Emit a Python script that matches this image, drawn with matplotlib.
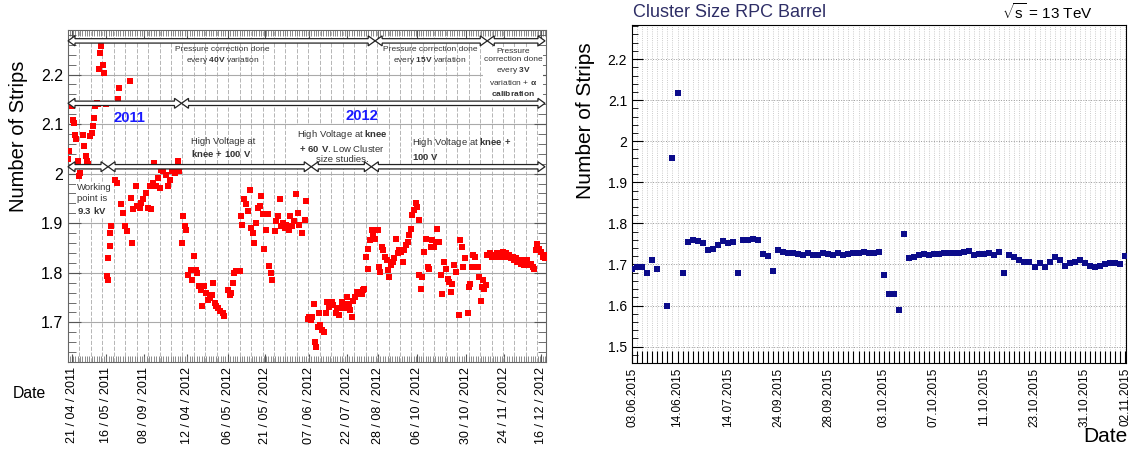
import numpy as np
import matplotlib.pyplot as plt
from matplotlib.patches import Polygon
from matplotlib.transforms import IdentityTransform
from matplotlib.ticker import MultipleLocator, FormatStrFormatter

plt.rcParams['font.family'] = ['Liberation Sans', 'DejaVu Sans']
plt.rcParams['mathtext.fontset'] = 'custom'
plt.rcParams['mathtext.rm'] = 'Liberation Sans'
plt.rcParams['mathtext.bf'] = 'Liberation Sans:bold'

# ---------------- left panel: 2011-2012 (run index 0..100) ----------------
run_2011 = [0.3, 0.1, 0.8, 1.0, 1.3, 1.5, 1.7, 2.2, 2.4, 2.5, 3.1, 3.3, 3.8, 3.9, 4.3,
            4.6, 5.0, 5.3, 5.5, 5.6, 6.0, 6.3, 6.4, 6.7, 7.0, 7.3, 7.6, 7.9, 8.1, 8.3,
            8.4, 8.8, 8.9, 9.1, 9.8, 10.2, 10.5, 10.7, 11.2, 11.6, 11.9, 12.3, 13.0,
            13.3, 13.5, 13.7, 14.2, 14.5, 15.1, 15.4, 15.8, 16.3, 16.8, 17.2, 17.5,
            17.9, 18.1, 18.5, 18.9, 19.2, 19.6, 19.9, 20.5, 21.0, 21.3, 21.9, 22.4,
            22.7, 23.1, 23.3]
cls_2011 = [2.045, 2.029, 2.136, 2.109, 2.103, 2.079, 2.069, 2.025, 1.995, 2.002, 2.079,
            2.056, 2.035, 2.025, 2.019, 2.076, 2.082, 2.096, 2.113, 2.136, 2.143, 2.140,
            2.212, 2.244, 2.258, 2.220, 2.204, 2.140, 1.793, 1.786, 1.830, 1.854, 1.880,
            1.894, 1.988, 1.981, 2.150, 2.173, 1.938, 1.921, 1.894, 1.884, 2.187, 1.951,
            1.860, 1.928, 1.975, 1.934, 1.931, 1.941, 1.948, 1.961, 1.931, 1.975, 1.928,
            1.981, 2.022, 1.975, 1.992, 1.971, 2.008, 2.005, 1.998, 1.975, 1.988, 2.005,
            2.002, 2.012, 2.025, 2.005]

run_2012 = [23.8, 24.1, 24.5, 24.8, 25.2, 25.7, 26.1, 26.4, 26.8, 27.1, 27.5, 27.8, 28.2,
            28.5, 29.0, 29.4, 29.7, 30.1, 30.4, 30.8, 31.1, 31.5, 31.9, 32.4, 32.8, 33.5,
            33.9, 34.2, 34.6, 34.9, 35.3, 36.0,
            36.3, 36.5, 37.0, 37.4, 37.7, 38.1, 38.4, 38.8, 39.1, 39.5, 39.8, 40.2, 40.5,
            40.9, 41.2, 41.6, 41.9, 42.1, 42.5, 42.8, 43.3, 43.7, 44.0, 44.4, 44.7, 45.0,
            45.4, 45.7, 46.3, 46.6, 47.0, 47.4, 47.8, 48.2, 48.5, 49.1, 49.6, 49.9,
            50.3, 50.6, 51.0, 51.2, 51.5, 51.7, 51.9, 52.4, 52.6, 52.9, 53.3, 53.6, 54.0,
            54.3, 54.7, 55.0, 55.4, 55.6, 56.1, 56.3, 56.8, 57.0, 57.5, 57.7, 58.2, 58.4,
            58.9, 59.1, 59.6, 59.8, 60.2, 60.5, 60.9, 61.2, 61.6, 61.9, 62.1,
            62.5, 62.8, 63.0, 63.3, 63.7, 64.0, 64.4, 64.9, 65.1, 65.4, 65.8, 66.1, 66.5,
            66.8, 67.0, 67.4, 67.7, 68.1, 68.4, 68.8, 69.1, 69.5, 69.8, 70.2, 70.5, 70.8,
            71.2, 71.5, 71.9, 72.2, 72.6, 72.9, 73.2, 73.5, 73.6, 74.0, 74.3, 74.7, 75.0,
            75.4, 75.7, 76.1, 76.4, 76.8, 77.1, 77.4, 77.8, 78.2, 78.5, 78.9, 79.2, 79.6,
            79.9, 80.3, 80.6, 80.9, 81.3, 81.9, 82.2, 82.6, 82.8, 83.3, 83.8, 84.0, 84.3,
            84.7, 85.0, 85.4, 85.9, 86.2, 86.6, 86.8, 87.0, 87.2, 87.6,
            87.9, 88.4, 88.8, 89.3, 89.7, 90.0, 90.4, 90.7, 91.1, 91.4, 91.8, 92.1, 92.5,
            92.8, 93.2, 93.5, 93.9, 94.2, 94.6, 94.9, 95.3, 95.6, 96.0, 96.3, 96.7, 97.0,
            97.4, 97.7, 98.1, 98.4, 98.8, 99.1, 99.5, 99.8, 100.0]
cls_2012 = [1.860, 1.914, 1.894, 1.887, 1.796, 1.806, 1.786, 1.833, 1.806, 1.800, 1.773,
            1.766, 1.732, 1.773, 1.759, 1.746, 1.749, 1.756, 1.779, 1.739, 1.732, 1.729,
            1.722, 1.719, 1.712, 1.766, 1.756, 1.759, 1.779, 1.800, 1.803, 1.803,
            1.914, 1.897, 1.948, 1.938, 1.924, 1.968, 1.891, 1.880, 1.860, 1.901, 1.931,
            1.934, 1.955, 1.918, 1.847, 1.887, 1.918, 1.813, 1.800, 1.786, 1.884, 1.904,
            1.914, 1.948, 1.894, 1.901, 1.891, 1.897, 1.887, 1.914, 1.894, 1.904, 1.958,
            1.921, 1.897, 1.880, 1.907, 1.944,
            1.707, 1.711, 1.704, 1.711, 1.738, 1.660, 1.650, 1.691, 1.718, 1.694, 1.684,
            1.680, 1.718, 1.741, 1.731, 1.741, 1.741, 1.734, 1.718, 1.728, 1.714, 1.728,
            1.741, 1.738, 1.728, 1.751, 1.738, 1.724, 1.711, 1.744, 1.751, 1.761, 1.758,
            1.761, 1.758, 1.765, 1.768,
            1.832, 1.808, 1.849, 1.866, 1.886, 1.876, 1.869, 1.886, 1.812, 1.802, 1.852,
            1.845, 1.832, 1.825, 1.805, 1.792, 1.815, 1.822, 1.829, 1.869, 1.839, 1.845,
            1.842, 1.822, 1.845, 1.856, 1.862, 1.876, 1.889, 1.916, 1.926, 1.940, 1.933,
            1.906, 1.795, 1.768, 1.792, 1.842, 1.869, 1.812, 1.808, 1.852, 1.866, 1.852,
            1.862, 1.889, 1.862, 1.795, 1.758, 1.822, 1.808, 1.788, 1.782, 1.761, 1.778,
            1.815, 1.802, 1.714, 1.866, 1.852, 1.812, 1.829, 1.718, 1.771, 1.778, 1.812,
            1.835, 1.832, 1.812, 1.792, 1.744, 1.771, 1.785, 1.768, 1.775,
            1.835, 1.839, 1.832, 1.835, 1.832, 1.839, 1.832, 1.835, 1.842, 1.832, 1.839,
            1.832, 1.835, 1.829, 1.832, 1.825, 1.829, 1.822, 1.825, 1.818, 1.825, 1.815,
            1.822, 1.825, 1.815, 1.818, 1.812, 1.808, 1.845, 1.859, 1.849, 1.842, 1.832,
            1.835, 1.829]

dates_1112 = ['21 / 04 / 2011', '16 / 05 / 2011', '08 / 09 / 2011', '12 / 04 / 2012',
              '06 / 05 / 2012', '21 / 05 / 2012', '07 / 06 / 2012', '22 / 07 / 2012',
              '28 / 08 / 2012', '06 / 10 / 2012', '30 / 10 / 2012', '24 / 11 / 2012',
              '16 / 12 / 2012']
date_runs_1112 = [0.8, 7.9, 15.9, 24.9, 33.5, 41.4, 50.6, 58.4, 64.9, 73.2, 83.5, 91.4, 99.2]

# ---------------- right panel: 2015 (one bin per run) ----------------
cls_2015 = [1.688, 1.693, 1.693, 1.680, 1.710, 1.688, np.nan, 1.598, 1.960, 2.117,
            1.680, 1.755, 1.760, 1.758, 1.752, 1.735, 1.737, 1.748, 1.758, 1.752,
            1.755, 1.680, 1.760, 1.760, 1.762, 1.760, 1.725, 1.720, 1.683, 1.735,
            1.730, 1.727, 1.727, 1.726, 1.722, 1.728, 1.724, 1.722, 1.728, 1.726,
            1.723, 1.728, 1.722, 1.725, 1.727, 1.728, 1.731, 1.728, 1.728, 1.731,
            1.675, 1.627, 1.628, 1.588, 1.773,
            1.715, 1.718, 1.722, 1.725, 1.722, 1.725, 1.726, 1.727, 1.727, 1.728,
            1.729, 1.730, 1.733, 1.722, 1.726, 1.726, 1.728, 1.724, 1.730,
            1.680,
            1.723, 1.717, 1.712, 1.707, 1.705, 1.695, 1.703, 1.695, 1.705, 1.717,
            1.710, 1.696, 1.703, 1.707, 1.711, 1.703, 1.696, 1.695, 1.696, 1.700,
            1.703, 1.703, 1.702, 1.720]
dates_2015 = ['03.06.2015', '14.06.2015', '14.07.2015', '24.09.2015', '28.09.2015',
              '03.10.2015', '07.10.2015', '11.10.2015', '23.10.2015', '31.10.2015',
              '02.11.2015']
date_bins_2015 = [0, 9, 19, 29, 39, 50, 60, 70, 80, 90, 98]

fig = plt.figure(figsize=(11.31, 4.5), dpi=100)

# ======================= left =======================
ax = fig.add_axes([0.0601, 0.1956, 0.4226, 0.7378])
ax.scatter(run_2011, cls_2011, marker='s', s=13, c='#ff0000', lw=0, zorder=3)
ax.scatter(run_2012, cls_2012, marker='s', s=13, c='#ff0000', lw=0, zorder=3)
ax.set_xlim(0, 100.2)
ax.set_ylim(1.62, 2.29)
ax.yaxis.set_major_locator(MultipleLocator(0.1))
ax.yaxis.set_minor_locator(MultipleLocator(0.02))
ax.yaxis.set_major_formatter(FormatStrFormatter('%g'))
ax.set_xticks(date_runs_1112, dates_1112, rotation=90, fontsize=9)
ax.xaxis.set_minor_locator(MultipleLocator(0.5))
ax.tick_params(axis='y', which='major', direction='in', length=9, labelsize=11.5,
               right=True, color='#555')
ax.tick_params(axis='y', which='minor', direction='in', length=6, right=True, color='#555')
ax.tick_params(axis='x', which='major', direction='in', length=6, top=True, color='#555')
ax.tick_params(axis='x', which='minor', direction='in', length=4, top=True, color='#777',
               width=0.6)
ax.grid(axis='y', which='major', color='#aaaaaa', lw=0.8)
for xv in np.arange(2.4, 100, 2.4):
    ax.axvline(xv, color='#aaaaaa', lw=0.6, ls=(0, (5, 2)), zorder=0)
for sp in ax.spines.values():
    sp.set_color('#666')
ax.set_ylabel('Number of Strips', fontsize=14.5)
ax.yaxis.set_label_coords(-0.084, 0.68)
fig.text(0.0115, 0.115, 'Date', fontsize=11.3)


# double headed hollow arrows, drawn in pixels
def period(x0, x1, y, L=7, H=5, h=2.2):
    (p0, py), (p1, _) = ax.transData.transform([(x0, y), (x1, y)])
    pts = [(p0, py), (p0 + L, py + H), (p0 + L, py + h), (p1 - L, py + h),
           (p1 - L, py + H), (p1, py), (p1 - L, py - H), (p1 - L, py - h),
           (p0 + L, py - h), (p0 + L, py - H)]
    fig.patches.append(Polygon(pts, closed=True, fc='white', ec='#222', lw=0.9,
                               transform=IdentityTransform(), figure=fig, zorder=4))


for a, b in ((0, 64.4), (64.4, 87.9), (87.9, 100)):
    period(a, b, 2.268)
for a, b in ((0, 23.8), (23.8, 100)):
    period(a, b, 2.142)
for a, b in ((0, 8.4), (8.4, 51.0), (51.0, 63.6), (63.6, 100)):
    period(a, b, 2.014)

tc = '#333333'
ax.text(32.4, 2.237, 'Pressure correction done\nevery $\\mathbf{40V}$ variation',
        ha='center', va='center', fontsize=6, color=tc, linespacing=1.3)
ax.text(75.9, 2.237, 'Pressure correction done\nevery $\\mathbf{15V}$ variation',
        ha='center', va='center', fontsize=6, color=tc, linespacing=1.3)
ax.text(93.3, 2.203, 'Pressure\ncorrection done\nevery $\\mathbf{3V}$\n'
        'variation + $\\mathbf{\\alpha}$\n$\\mathbf{calibration}$',
        ha='center', va='center', fontsize=6, color=tc, linespacing=1.3,
        bbox=dict(fc='white', ec='none', pad=0.5))
ax.text(12.8, 2.112, '2011', ha='center', va='center', fontsize=10.7,
        fontweight='bold', color='#1a1aff')
ax.text(61.7, 2.116, '2012', ha='center', va='center', fontsize=10.7,
        fontweight='bold', color='#1a1aff')
ax.text(25.7, 2.052, 'High Voltage at\n$\\mathbf{knee\\ {+}\\ 100\\ V}$',
        ha='left', va='center', fontsize=6.8, color=tc, linespacing=1.3)
ax.text(57.5, 2.056, 'High Voltage at $\\mathbf{knee}$\n$\\mathbf{{+}\\ 60\\ V}$. Low Cluster\n'
        'size studies.', ha='center', va='center', fontsize=6.8, color=tc,
        linespacing=1.2, bbox=dict(fc='white', ec='none', pad=0.3))
ax.text(72.2, 2.050, 'High Voltage at $\\mathbf{knee\\ {+}}$\n$\\mathbf{100\\ V}$',
        ha='left', va='center', fontsize=6.8, color=tc, linespacing=1.3)
ax.text(1.9, 1.948, 'Working\npoint is\n$\\mathbf{9.3\\ kV}$', ha='left', va='center',
        fontsize=6.8, color=tc, linespacing=1.3,
        bbox=dict(fc='white', ec='none', pad=0.5))

# ======================= right =======================
ax2 = fig.add_axes([0.5588, 0.1933, 0.4368, 0.7511])
bins = np.arange(len(cls_2015))
ax2.scatter(bins, cls_2015, marker='s', s=20, c='#0b0b8a', lw=0, zorder=3)
ax2.set_xlim(-0.05, 98.2)
ax2.set_ylim(1.46, 2.283)
ax2.yaxis.set_major_locator(MultipleLocator(0.1))
ax2.yaxis.set_minor_locator(MultipleLocator(0.02))
ax2.yaxis.set_major_formatter(FormatStrFormatter('%g'))
ax2.set_xticks(date_bins_2015, dates_2015, rotation=90, fontsize=8.5)
ax2.set_xticks(bins, minor=True)
ax2.tick_params(axis='x', which='both', direction='in', length=8.5, width=0.8)
ax2.tick_params(axis='y', which='major', direction='in', length=8, labelsize=10)
ax2.tick_params(axis='y', which='minor', direction='in', length=4)
ax2.grid(axis='x', which='both', color='#bbbbbb', lw=0.6, ls=':')
ax2.grid(axis='y', which='major', color='#999999', lw=0.7, ls=':')
ax2.set_ylabel('Number of Strips', fontsize=15)
ax2.yaxis.set_label_coords(-0.075, 0.716)
fig.text(0.9965, 0.01, 'Date', ha='right', va='bottom', fontsize=15)
fig.text(0.5597, 0.973, 'Cluster Size RPC Barrel', fontsize=13, color='#2e2e66',
         va='center')
fig.text(0.886, 0.973, '$\\sqrt{\\mathrm{s}}$ = 13 TeV', fontsize=11, va='center')

fig.savefig('out.png', dpi=100)
